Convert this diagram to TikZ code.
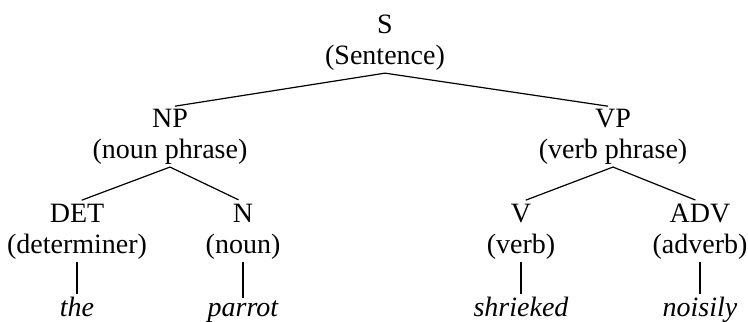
\documentclass[tikz,border=0pt]{standalone}
\usepackage{fontspec}
\setmainfont{Liberation Serif}
\usepackage{tikz}
\usetikzlibrary{positioning}

\tikzset{
  cat/.style={align=center, inner sep=1pt, font=\fontsize{14}{15.5}\selectfont},
  word/.style={anchor=base, inner sep=1pt, font=\fontsize{14}{15.5}\selectfont\itshape},
  branch/.style={line width=0.6pt},
  down/.style={branch, shorten >=2.5pt}
}

\begin{document}
\begin{tikzpicture}[x=0.5pt, y=-0.5pt]
  \useasboundingbox (0,0) rectangle (748,321);
  % phrase level
  \node[cat] (s)   at (385,43)  {S\\(Sentence)};
  \node[cat] (np)  at (170,137) {NP\\(noun phrase)};
  \node[cat] (vp)  at (613,137) {VP\\(verb phrase)};
  % word classes
  \node[cat] (det) at (77,232)  {DET\\(determiner)};
  \node[cat] (n)   at (243,232) {N\\(noun)};
  \node[cat] (v)   at (521,232) {V\\(verb)};
  \node[cat] (adv) at (700,232) {ADV\\(adverb)};
  % words
  \node[word] (the)      at (77,316)  {the};
  \node[word] (parrot)   at (243,316) {parrot};
  \node[word] (shrieked) at (521,316) {shrieked};
  \node[word] (noisily)  at (700,316) {noisily};

  \draw[down] (s.south) -- (np.north);
  \draw[down] (s.south) -- (vp.north);
  \draw[down] (np.south) -- (det.north);
  \draw[down] (np.south) -- (n.north);
  \draw[down] (vp.south) -- (v.north);
  \draw[down] (vp.south) -- (adv.north);
  \foreach \c/\w in {det/the, n/parrot, v/shrieked, adv/noisily}
    \draw[branch] (\c.south) -- (\w.north);
\end{tikzpicture}
\end{document}
